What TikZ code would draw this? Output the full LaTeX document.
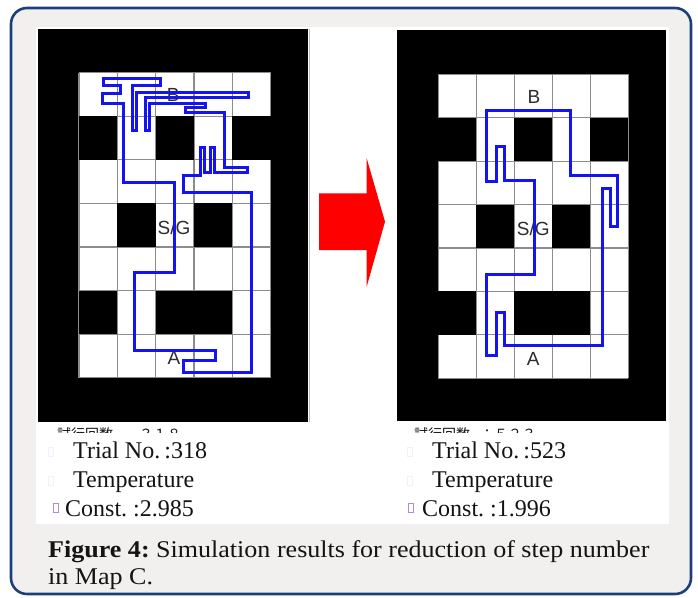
\documentclass[tikz,border=0pt]{standalone}
\usepackage{graphicx}
\usepackage{fontspec}
\setmainfont{Liberation Serif}
\newfontfamily\labfont{Liberation Sans}
\newfontfamily\jpfont{Noto Sans CJK JP}
\frenchspacing
\definecolor{bggray}{RGB}{241,240,238}
\definecolor{framec}{RGB}{28,63,122}
\definecolor{gridc}{RGB}{140,140,140}
\definecolor{pathc}{RGB}{20,20,240}
\definecolor{labc}{RGB}{45,45,45}
\definecolor{txtc}{RGB}{20,20,20}
\tikzset{
  gridline/.style={draw=gridc, line width=1.1pt},
  walkpath/.style={draw=pathc, line width=3pt, line join=miter},
  mazelabel/.style={text=labc, font=\labfont\fontsize{19}{19}\selectfont, inner sep=0pt},
  infotext/.style={anchor=base west, text=txtc, inner sep=0pt, font=\fontsize{24}{28}\selectfont},
  glyphbox/.style={line width=0.8pt},
  jptext/.style={anchor=base west, inner sep=0pt, text=txtc, font=\jpfont\fontsize{14}{14}\selectfont}
}
\newcommand\drawmaze[4]{%
  \begin{scope}[shift={(#1,#2)}, xscale=#3, yscale=#4]
    \fill[white] (0,0) rectangle (5,7);
    \foreach \i in {0,...,5} \draw[gridline] (\i,0) -- (\i,7);
    \foreach \j in {0,...,7} \draw[gridline] (0,\j) -- (5,\j);
    \foreach \c/\r in {0/1,2/1,4/1,1/3,3/3,0/5,2/5,3/5}
      \fill[black] (\c,\r) rectangle ++(1,1);
  \end{scope}}
\begin{document}
\begin{tikzpicture}[x=1pt,y=-1pt]
\useasboundingbox (0,0) rectangle (698,597);
\fill[white] (0,0) rectangle (698,597);
\draw[framec, line width=2.6pt, fill=bggray, rounded corners=16pt] (11,8) rectangle (691,594);
% white panel
\fill[white] (36,27) rectangle (669,524);
% maze frames
\fill[black] (38,29) rectangle (308,422);
\fill[black] (397,30) rectangle (666,421);
\draw[gridc!60, line width=0.6pt] (309,29) -- (309,422);
\drawmaze{79}{72.7}{38.34}{43.57}
\drawmaze{438.3}{74.3}{38}{43.43}
% labels
\node[mazelabel] (lb) at (173.3,95) {B};
\node[mazelabel] (lsg) at (174,227.3) {S/G};
\node[mazelabel] (la) at (174,358.3) {A};
\node[mazelabel] (rb) at (534,97.3) {B};
\node[mazelabel] (rsg) at (533.3,228.3) {S/G};
\node[mazelabel] (ra) at (533.3,359.3) {A};
% left path
\draw[walkpath] (123,182) -- (123,103) -- (102,103) -- (102,93) -- (120,93) -- (120,85)
  -- (103,85) -- (103,78) -- (160,78) -- (160,85) -- (132,85) -- (132,130) -- (136,130)
  -- (136,92) -- (248,92) -- (248,97) -- (145,97) -- (145,130) -- (149,130) -- (149,103)
  -- (205,103) -- (205,107) -- (185,107) -- (185,112) -- (224,112) -- (224,167)
  -- (247,167) -- (247,172) -- (214,172) -- (214,147) -- (210,147) -- (210,172)
  -- (204,172) -- (204,147) -- (200,147) -- (200,175) -- (183,175) -- (183,192)
  -- (251,192) -- (251,372) -- (183,372) -- (183,360) -- (215,360) -- (215,350)
  -- (134,350) -- (134,272) -- (174,272) -- (174,182) -- cycle;
% right path
\draw[walkpath] (486.7,110) -- (570,110) -- (570,175) -- (617.7,175) -- (617.7,226.7)
  -- (610,226.7) -- (610,188.3) -- (602.7,188.3) -- (602.7,345) -- (504.3,345)
  -- (504.3,312.7) -- (496.7,312.7) -- (496.7,355) -- (486,355) -- (486,274)
  -- (534,274) -- (534,180.7) -- (504,180.7) -- (504,146) -- (496.7,146)
  -- (496.7,181.7) -- (486.7,181.7) -- cycle;
% arrow
\fill[red] (319,193.3) -- (366.7,193.3) -- (366.7,158.3) -- (385,221.7)
  -- (366.7,286.7) -- (366.7,250) -- (319,250) -- cycle;
% clipped japanese line
\begin{scope}
  \clip (36,423) rectangle (669,432);
  \node[jptext] (ljp) at (57,439) {試行回数};
  \node[jptext] (lnum) at (139,439) {３１８};
  \node[jptext] (rjp) at (414,439) {試行回数};
  \node[jptext] (rnum) at (480,439) {：５２３};
\end{scope}
% info text
\draw[glyphbox, draw=blue!6] (48,447) rectangle (53,456);
\draw[glyphbox, draw=blue!6] (48,476) rectangle (53,485);
\draw[glyphbox, draw=blue!35!violet!45] (53,503) rectangle (58,512);
\draw[glyphbox, draw=blue!6] (407,447) rectangle (412,456);
\draw[glyphbox, draw=blue!6] (407,476) rectangle (412,485);
\draw[glyphbox, draw=blue!35!violet!45] (408,503) rectangle (413,512);
\node[infotext] (lt1) at (73,458) {Trial No.\,:318};
\node[infotext] (lt2) at (73,487) {Temperature};
\node[infotext] (lt3) at (65,516) {Const. :2.985};
\node[infotext] (rt1) at (432,458) {Trial No.\,:523};
\node[infotext] (rt2) at (432,487) {Temperature};
\node[infotext] (rt3) at (422,516) {Const. :1.996};
% caption
\node[anchor=base west, inner sep=0pt, text=txtc, font=\fontsize{24}{28}\selectfont] (cap1) at (48,557)
  {\scalebox{1.085}[1]{\textbf{Figure 4:} Simulation results for reduction of step number}};
\node[anchor=base west, inner sep=0pt, text=txtc, font=\fontsize{24}{28}\selectfont] (cap2) at (48,584)
  {\scalebox{1.085}[1]{in Map C.}};
\end{tikzpicture}
\end{document}
